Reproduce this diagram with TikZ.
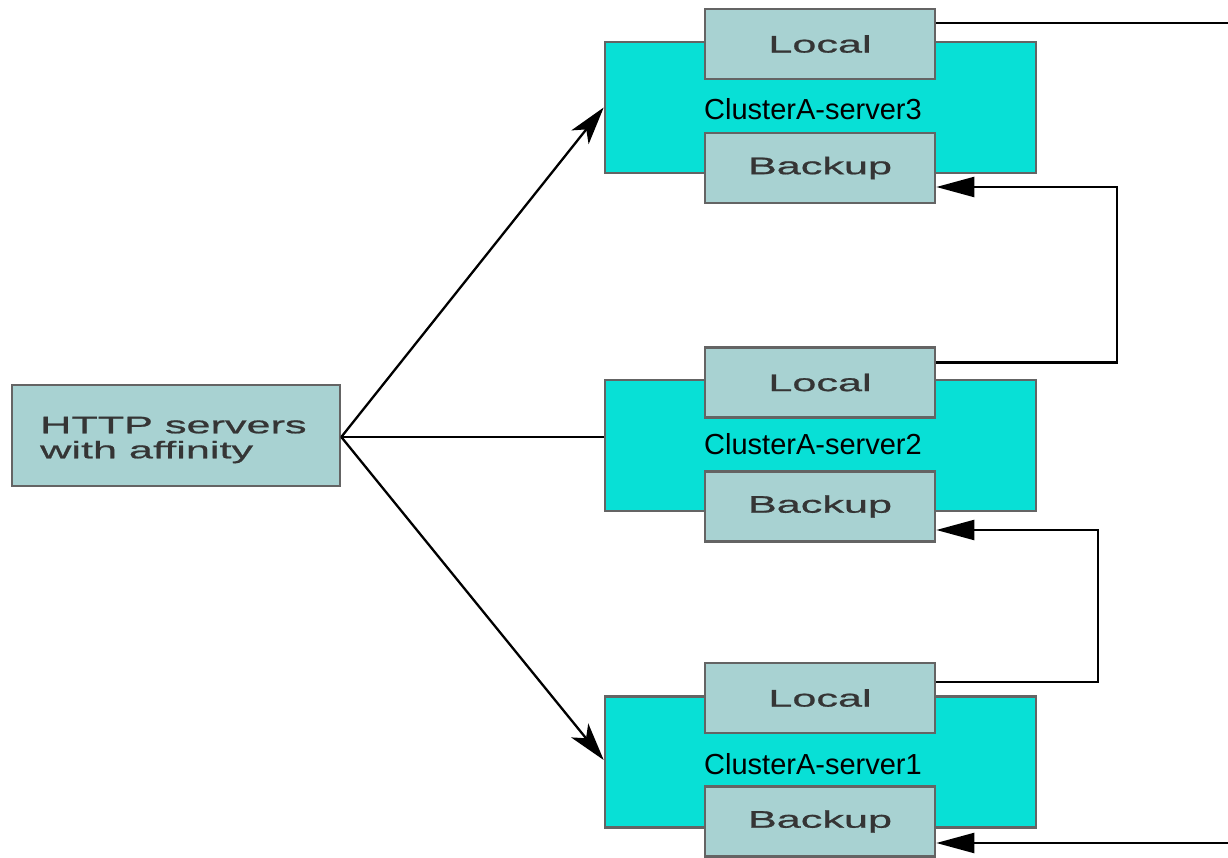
\documentclass[tikz,border=0pt]{standalone}
\usepackage{fontspec}
\setmainfont{Liberation Sans}
\newfontfamily\widefont[FakeStretch=1.8,FakeBold=0.8]{Liberation Sans}
\usetikzlibrary{arrows.meta,calc}
\definecolor{boxteal}{HTML}{A8D2D2}
\definecolor{cyanbox}{HTML}{08E0D6}
\definecolor{edgegray}{HTML}{646464}
\definecolor{txtgray}{HTML}{353535}
\begin{document}
\begin{tikzpicture}[x=1pt,y=-1pt,
  greybox/.style={draw=edgegray,line width=2.6pt,fill=boxteal,inner sep=0pt,
    font=\widefont\fontsize{24}{25}\selectfont,text=txtgray},
  serverbox/.style={draw=edgegray,line width=2.6pt,fill=cyanbox,inner sep=0pt,
    minimum width=431pt,minimum height=131pt},
  sublabel/.style={font=\fontsize{29}{30}\selectfont,text=black,inner sep=0pt},
  httplabel/.style={font=\widefont\fontsize{24}{25}\selectfont,text=txtgray,inner sep=0pt,align=left},
  conn/.style={line width=2.3pt,black},
  diagarr/.style={conn,-{Stealth[length=38pt,width=22pt,inset=10pt]}},
  backarr/.style={conn,-{Triangle[length=38pt,width=20pt]}}]
\useasboundingbox[fill=white] (0,0) rectangle (1228,858);

% HTTP servers
\node[greybox,minimum width=328pt,minimum height=101pt] (http) at (176,435.5) {};
\node[httplabel,anchor=west] (httpt) at (40,440) {HTTP servers\\with affinity};

% server 3
\node[serverbox] (c3) at (820.5,107.5) {};
\node[greybox,minimum width=230pt,minimum height=70pt] (l3) at (820,44) {Local};
\node[greybox,minimum width=230pt,minimum height=70pt] (b3) at (820,168) {Backup};
\node[sublabel] (t3) at (813,109) {ClusterA-server3};

% server 2
\node[serverbox] (c2) at (820.5,445.5) {};
\node[greybox,minimum width=230pt,minimum height=70pt] (l2) at (820,382.5) {Local};
\node[greybox,minimum width=230pt,minimum height=70pt] (b2) at (820,506.5) {Backup};
\node[sublabel] (t2) at (813,444) {ClusterA-server2};

% server 1
\node[serverbox] (c1) at (820.5,762) {};
\node[greybox,minimum width=230pt,minimum height=70pt] (l1) at (820,698) {Local};
\node[greybox,minimum width=230pt,minimum height=70pt] (b1) at (820,821.5) {Backup};
\node[sublabel] (t1) at (813,764) {ClusterA-server1};

\coordinate (e1) at (1228,23);
\coordinate (e2) at (1228,843);

% connectors from HTTP
\draw[diagarr] ([yshift=-1.5pt]http.east) -- (c3.west);
\draw[conn] ([yshift=-1.5pt]http.east) -- ([yshift=-1.5pt]http.east -| c2.west);
\draw[diagarr] ([yshift=-1.5pt]http.east) -- ([yshift=2pt]c1.west);

% replication lines
\draw[conn] ([yshift=21pt]l3.east) -- (e1);
\draw[backarr] ([yshift=20pt]l2.east) -- ++(181,0) |- ([yshift=-19pt]b3.east);
\draw[backarr] ([yshift=16pt]l1.east) -- ++(162,0) |- ([yshift=-23.5pt]b2.east);
\draw[backarr] (e2) -- ([yshift=-21.5pt]b1.east);
\end{tikzpicture}
\end{document}
